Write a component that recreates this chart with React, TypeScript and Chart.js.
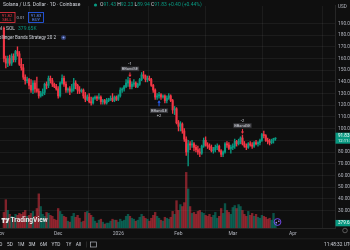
import React, { useEffect, useRef } from 'react';
import { Chart, registerables } from 'chart.js';

Chart.register(...registerables);

// day index (days after 2025-11-01) of the first candle
const firstDay = 2;

const openP = [
  186, 160, 156, 160, 156, 162, 159, 166, 164, 155, 152, 144, 141, 142, 137, 133, 139, 134, 132, 128,
  130, 131, 138, 137, 143, 141, 138, 136, 134, 128, 139, 143, 138, 133, 134, 132, 134, 139, 137, 133,
  132, 133, 128, 125, 127, 123, 122, 126, 127, 126, 127, 123, 124, 122, 124, 125, 126, 124, 127, 125,
  128, 133, 134, 136, 139, 141, 136, 138, 139, 136, 138, 142, 146, 145, 142, 143, 142, 137, 133, 127,
  128, 129, 127, 128, 124, 126, 128, 124, 116, 117, 105, 102, 104, 98, 91, 80, 87, 86, 87, 84,
  82, 80, 79, 85, 90, 86, 85, 84, 81, 82, 84, 85, 81, 78, 80, 87, 86, 83, 84, 85,
  89, 87, 89, 92, 87, 85, 84, 87, 86, 85, 88, 87, 88, 90, 95, 94, 90, 89, 88, 90, 91.43,
];
const highP = [
  187, 162, 162, 163, 164, 164, 167, 170, 166, 160, 155, 146, 144, 143, 142, 141, 141, 144, 134, 132,
  134, 139, 140, 145, 145, 143, 139, 138, 136, 140, 146, 145, 140, 135, 136, 138, 143, 141, 138, 136,
  134, 134, 131, 129, 130, 127, 127, 128, 128, 130, 128, 125, 125, 126, 126, 128, 130, 128, 128, 129,
  135, 135, 137, 142, 144, 143, 140, 142, 140, 139, 143, 148, 149, 146, 145, 145, 143, 138, 134, 130,
  131, 130, 129, 129, 128, 130, 129, 125, 119, 118, 107, 106, 105, 100, 93, 90, 89, 90, 88, 86,
  85, 83, 86, 92, 93, 88, 87, 86, 84, 86, 87, 86, 82, 81, 88, 89, 88, 86, 87, 91,
  90, 91, 93, 94.5, 89, 87, 88, 89, 88, 89, 90, 89, 91, 96, 98, 95, 92, 91, 91, 91.8, 92.23,
];
const lowP = [
  157, 152, 153, 154, 154, 157, 157, 162, 154, 150, 142, 138, 139, 134, 131, 130, 131, 131, 126, 127,
  128, 129, 134, 135, 139, 136, 135, 133, 126, 127, 138, 136, 131, 131, 129, 131, 132, 134, 130, 130,
  131, 126, 123, 124, 122, 120, 121, 125, 124, 125, 121, 121, 121, 121, 123, 124, 123, 123, 124, 124,
  127, 131, 132, 135, 136, 134, 134, 136, 135, 135, 137, 141, 143, 140, 140, 141, 136, 131, 125, 125,
  126, 125, 126, 122, 122, 125, 123, 113, 112, 104, 98, 98, 96, 89, 77, 68, 82, 84, 81, 80,
  78, 76, 78, 84, 85, 83, 82, 80, 79, 80, 82, 80, 76, 76, 79, 84, 82, 79, 82, 83,
  85, 86, 87, 86, 84, 82, 83, 85, 83, 84, 86, 85, 86, 89, 92, 89, 87, 86, 87, 87.6, 89.94,
];
const closeP = [
  160, 156, 160, 156, 162, 159, 166, 164, 155, 152, 144, 141, 142, 137, 133, 139, 134, 132, 128, 130,
  131, 138, 137, 143, 141, 138, 136, 134, 128, 139, 143, 138, 133, 134, 132, 134, 139, 137, 133, 132,
  133, 128, 125, 127, 123, 122, 126, 127, 126, 127, 123, 124, 122, 124, 125, 126, 124, 127, 125, 128,
  133, 134, 136, 139, 141, 136, 138, 139, 136, 138, 142, 146, 145, 142, 143, 142, 137, 133, 127, 128,
  129, 127, 128, 124, 126, 128, 124, 116, 117, 105, 102, 104, 98, 91, 80, 87, 86, 87, 84, 82,
  80, 79, 85, 90, 86, 85, 84, 81, 82, 84, 85, 81, 78, 80, 87, 86, 83, 84, 85, 89,
  87, 89, 92, 87, 85, 84, 87, 86, 85, 88, 87, 88, 90, 95, 94, 90, 89, 88, 90, 91.43, 91.83,
];
// volume in thousands of SOL
const volumeK = [
  1216, 2204, 1368, 1064, 912, 760, 1064, 988, 1140, 1064, 1216, 1368, 912, 988, 1140, 1292, 912, 1520, 2660,
  1672, 1064, 912, 1216, 1140, 988, 912, 684, 608, 1520, 1292, 1064, 912, 836, 532, 456, 912, 1140, 836, 988,
  760, 456, 532, 1216, 1292, 1140, 988, 836, 532, 380, 608, 684, 456, 304, 380, 380, 532, 684, 608, 608,
  456, 684, 532, 608, 912, 1064, 912, 760, 684, 532, 608, 836, 1064, 912, 760, 684, 532, 760, 988, 1216,
  912, 760, 608, 532, 836, 760, 684, 836, 1292, 1064, 2128, 1368, 1824, 1672, 1976, 4332, 3040,
  1672, 1140, 1216, 1064, 1292, 1368, 1216, 1140, 988, 912, 1064, 836, 988, 1216, 760, 912, 1520, 1140, 1900, 1368,
  1216, 1064, 1596, 1748, 1520, 1824, 1672, 1368, 1064, 912, 1292, 988, 1140, 912, 1064, 836, 760, 988, 912, 836,
  684, 760, 608, 1140, 379.65,
];

const monthTickDays = [0, 30, 61, 92, 120, 151];
const monthTickLabels = ['Nov', 'Dec', '2026', 'Feb', 'Mar', 'Apr'];
const priceTicks = [30, 40, 50, 60, 70, 80, 90, 100, 110, 120, 130, 140, 150, 160, 170, 180, 190];

const signalDays = [67, 82, 125];
const signalNames = ['BBandSE', 'BBandLE', 'BBandSE'];
const signalQty = ['-1', '+2', '-2'];
const signalSide = ['short', 'long', 'short'];

const rangeButtons = ['1D', '5D', '1M', '3M', '6M', 'YTD', '1Y', 'All'];

const UP = '#089981';
const DOWN = '#f23645';
const UP_VOL = 'rgba(8,153,129,0.5)';
const DOWN_VOL = 'rgba(242,54,69,0.5)';
const BLUE = '#2962ff';
const BG = '#0f0f0f';
const TEXT = '#d1d4dc';
const AXIS_TEXT = '#b2b5be';
const GRID = 'rgba(255,255,255,0.055)';
const FONT = 'Roboto, "Noto Sans", sans-serif';

function txt(ctx: CanvasRenderingContext2D, s: string, x: number, y: number, color: string, size: number,
  align: CanvasTextAlign = 'left', weight = 'normal', maxWidth?: number) {
  ctx.font = `${weight} ${size}px ${FONT}`;
  ctx.fillStyle = color;
  ctx.textAlign = align;
  ctx.textBaseline = 'middle';
  if (maxWidth) ctx.fillText(s, x, y, maxWidth); else ctx.fillText(s, x, y);
  return ctx.measureText(s).width;
}

const overlay = {
  id: 'tvOverlay',
  beforeDraw(chart: any) {
    const ctx = chart.ctx as CanvasRenderingContext2D;
    ctx.save();
    ctx.fillStyle = BG;
    ctx.fillRect(0, 0, chart.width, chart.height);
    ctx.restore();
  },
  afterDraw(chart: any) {
    const ctx = chart.ctx as CanvasRenderingContext2D;
    const xs = chart.scales.x;
    const ys = chart.scales.y;
    const yv = chart.scales.yv;
    const ca = chart.chartArea;
    const n = closeP.length;
    const last = n - 1;
    const o = openP[last], h = highP[last], l = lowP[last], c = closeP[last];
    const chg = c - closeP[last - 1];
    const pct = (chg / closeP[last - 1]) * 100;
    const lastUp = c >= o;
    const lastCol = lastUp ? UP : DOWN;
    ctx.save();

    // time axis labels
    monthTickDays.forEach((d, k) => {
      txt(ctx, monthTickLabels[k], xs.getPixelForValue(d), ca.bottom + 5.3, AXIS_TEXT, 5, 'center');
    });

    // signals
    signalDays.forEach((d, k) => {
      const i = d - firstDay;
      const x = xs.getPixelForValue(d);
      const short = signalSide[k] === 'short';
      const col = short ? DOWN : BLUE;
      ctx.strokeStyle = col;
      ctx.fillStyle = col;
      ctx.lineWidth = 1;
      let labelY: number, qtyY: number;
      if (short) {
        const yh = ys.getPixelForValue(highP[i]);
        ctx.beginPath(); ctx.moveTo(x, yh - 6); ctx.lineTo(x, yh - 3); ctx.stroke();
        ctx.beginPath(); ctx.moveTo(x - 1.6, yh - 3.5); ctx.lineTo(x + 1.6, yh - 3.5); ctx.lineTo(x, yh - 1); ctx.closePath(); ctx.fill();
        labelY = yh - 9.5; qtyY = yh - 14.5;
      } else {
        const yl = ys.getPixelForValue(lowP[i]);
        ctx.beginPath(); ctx.moveTo(x, yl + 4); ctx.lineTo(x, yl + 8); ctx.stroke();
        ctx.beginPath(); ctx.moveTo(x - 1.6, yl + 4.5); ctx.lineTo(x + 1.6, yl + 4.5); ctx.lineTo(x, yl + 2); ctx.closePath(); ctx.fill();
        labelY = yl + 12.5; qtyY = yl + 18;
      }
      ctx.font = `4px ${FONT}`;
      const w = ctx.measureText(signalNames[k]).width;
      ctx.fillStyle = 'rgba(60,60,64,0.9)';
      ctx.fillRect(x - w / 2 - 1, labelY - 2.3, w + 2, 4.6);
      txt(ctx, signalNames[k], x, labelY, TEXT, 4, 'center');
      txt(ctx, signalQty[k], x, qtyY, TEXT, 4, 'center');
    });

    // legend row 1
    txt(ctx, 'Solana / U.S. Dollar · 1D · Coinbase', 3, 5, TEXT, 5, 'left', 'normal', 86);
    ctx.fillStyle = UP;
    ctx.beginPath(); ctx.arc(95.5, 5, 1.6, 0, Math.PI * 2); ctx.fill();
    let lx = 100;
    const parts: [string, string][] = [
      ['O', TEXT], [o.toFixed(2), lastCol], [' H', TEXT], [h.toFixed(2), lastCol], [' L', TEXT], [l.toFixed(2), lastCol],
      [' C', TEXT], [c.toFixed(2), lastCol],
      [` ${chg >= 0 ? '+' : ''}${chg.toFixed(2)} (${pct >= 0 ? '+' : ''}${pct.toFixed(2)}%)`, lastCol],
    ];
    parts.forEach(([s, col]) => { lx += txt(ctx, s, lx, 5, col, 5); });

    // legend row 2: sell / buy buttons
    ctx.lineWidth = 0.8;
    ctx.strokeStyle = DOWN;
    ctx.strokeRect(-1, 12.5, 16, 10);
    txt(ctx, (c - 0.01).toFixed(2), 7, 15.5, DOWN, 4.2, 'center');
    txt(ctx, 'SELL', 7, 20, DOWN, 4.2, 'center');
    txt(ctx, '0.01', 20.5, 17.5, AXIS_TEXT, 4.2, 'center');
    ctx.strokeStyle = BLUE;
    ctx.strokeRect(28.5, 12.5, 15, 10);
    txt(ctx, c.toFixed(2), 36, 15.5, '#5b8cff', 4.2, 'center');
    txt(ctx, 'BUY', 36, 20, '#5b8cff', 4.2, 'center');

    // legend rows 3, 4
    const vw = txt(ctx, 'Vol · SOL', -5, 29, TEXT, 5);
    txt(ctx, `${volumeK[last].toFixed(2)}K`, -5 + vw + 3, 29, lastCol, 5);
    txt(ctx, 'Bollinger Bands Strategy 20 2', -4, 38, TEXT, 5, 'left', 'normal', 60);
    ctx.fillStyle = '#2d3a66';
    ctx.beginPath(); ctx.arc(63.5, 37.5, 2.6, 0, Math.PI * 2); ctx.fill();
    ctx.fillStyle = '#8fa8ff';
    ctx.beginPath(); ctx.arc(63.5, 37.5, 1, 0, Math.PI * 2); ctx.fill();

    // price axis header
    txt(ctx, 'USD', 338, 7, AXIS_TEXT, 4.6);

    // last price label
    const py = ys.getPixelForValue(c);
    ctx.fillStyle = lastCol;
    ctx.fillRect(ca.right + 0.5, py - 5.5, 20, 11);
    txt(ctx, c.toFixed(2), ca.right + 3, py - 2.5, '#ffffff', 4.6);
    txt(ctx, '12:11:28', ca.right + 3, py + 2.6, '#ffffff', 4.2);

    // last volume label
    const vy = yv.getPixelForValue(volumeK[last]);
    ctx.fillStyle = lastCol;
    ctx.fillRect(ca.right + 0.5, vy - 3.2, 20, 6.4);
    txt(ctx, `${volumeK[last].toFixed(2)}K`, ca.right + 3, vy, '#ffffff', 4.6);

    // TradingView logo
    ctx.fillStyle = '#e8e8e8';
    ctx.fillRect(1.5, 218, 3.6, 1.6);
    ctx.fillRect(2.6, 218, 1.6, 5);
    ctx.beginPath(); ctx.arc(6.1, 219, 0.9, 0, Math.PI * 2); ctx.fill();
    ctx.beginPath(); ctx.moveTo(7.6, 218); ctx.lineTo(9.6, 218); ctx.lineTo(7.6, 223); ctx.lineTo(5.6, 223); ctx.closePath(); ctx.fill();
    txt(ctx, 'TradingView', 10.5, 220.7, '#e8e8e8', 6.6, 'left', 'bold', 40);

    // purple icon near last bar
    ctx.strokeStyle = '#7c4dff';
    ctx.lineWidth = 0.9;
    ctx.beginPath(); ctx.arc(277.5, 222, 3.4, 0, Math.PI * 2); ctx.stroke();
    ctx.fillStyle = '#b388ff';
    ctx.beginPath(); ctx.arc(276.3, 222.6, 0.8, 0, Math.PI * 2); ctx.fill();
    ctx.beginPath(); ctx.arc(278.8, 221.2, 0.8, 0, Math.PI * 2); ctx.fill();

    // bottom separators and toolbar
    ctx.fillStyle = '#262626';
    ctx.fillRect(0, 238.5, 350, 0.7);
    const centers = [-0.5, 10, 21, 32, 43.5, 56, 68.5, 78.5];
    rangeButtons.forEach((b, k) => { txt(ctx, b, centers[k], 244.5, TEXT, 4.8, 'center'); });
    ctx.fillStyle = '#3a3a3a';
    ctx.fillRect(86, 241.5, 0.6, 6);
    ctx.strokeStyle = AXIS_TEXT;
    ctx.lineWidth = 0.7;
    ctx.strokeRect(90.5, 242, 6, 5);
    txt(ctx, '11:48:32 UTC', 324, 244.5, TEXT, 4.8);
    ctx.strokeStyle = '#777';
    ctx.beginPath(); ctx.arc(345, 230.5, 2.3, 0, Math.PI * 2); ctx.stroke();

    ctx.restore();
  },
};

export default function App() {
  const ref = useRef<HTMLCanvasElement>(null);
  useEffect(() => {
    document.body.style.margin = '0';
    document.body.style.background = BG;
    const canvas = ref.current!;
    const days = openP.map((_, i) => firstDay + i);
    const isUp = closeP.map((cl, i) => cl >= openP[i]);
    const chart = new Chart(canvas, {
      type: 'bar',
      data: {
        datasets: [
          {
            label: 'body',
            data: days.map((d, i) => ({ x: d, y: [openP[i], closeP[i]] })) as any,
            backgroundColor: isUp.map((u) => (u ? UP : DOWN)),
            barThickness: 1.4,
            minBarLength: 0.6,
            order: 0,
            yAxisID: 'y',
          },
          {
            label: 'wick',
            data: days.map((d, i) => ({ x: d, y: [lowP[i], highP[i]] })) as any,
            backgroundColor: isUp.map((u) => (u ? UP : DOWN)),
            barThickness: 0.7,
            order: 1,
            yAxisID: 'y',
          },
          {
            label: 'volume',
            data: days.map((d, i) => ({ x: d, y: volumeK[i] })) as any,
            backgroundColor: isUp.map((u) => (u ? UP_VOL : DOWN_VOL)),
            barThickness: 1.7,
            order: 2,
            yAxisID: 'yv',
          },
        ],
      },
      options: {
        responsive: false,
        animation: false,
        devicePixelRatio: 1,
        events: [],
        layout: { autoPadding: false, padding: { left: 0, right: 0, top: 0, bottom: 12 } } as any,
        datasets: { bar: { grouped: false, borderWidth: 0 } } as any,
        plugins: { legend: { display: false }, tooltip: { enabled: false }, title: { display: false } },
        scales: {
          x: {
            type: 'linear',
            min: 0,
            max: 172.7,
            offset: false,
            position: 'bottom',
            afterBuildTicks: (s: any) => { s.ticks = monthTickDays.map((v) => ({ value: v })); },
            afterFit: (s: any) => { s.height = 10; },
            ticks: { display: false },
            grid: { color: GRID, drawTicks: false },
            border: { color: '#262626' },
          },
          y: {
            type: 'linear',
            position: 'right',
            min: 15,
            max: 205,
            afterBuildTicks: (s: any) => { s.ticks = priceTicks.map((v) => ({ value: v })); },
            afterFit: (s: any) => { s.width = 15; },
            ticks: {
              padding: 3,
              color: AXIS_TEXT,
              font: { family: FONT, size: 4.8 },
              callback: (v: any) => Number(v).toFixed(2),
            },
            grid: { color: GRID, drawTicks: false },
            border: { color: '#262626' },
          },
          yv: { type: 'linear', display: false, min: 0, max: 17300 },
        },
      } as any,
      plugins: [overlay],
    });
    return () => chart.destroy();
  }, []);
  return (
    <div style={{ position: 'fixed', left: 0, top: 0, width: 350, height: 250, background: BG }}>
      <canvas ref={ref} width={350} height={250} style={{ display: 'block', width: 350, height: 250 }} />
    </div>
  );
}
